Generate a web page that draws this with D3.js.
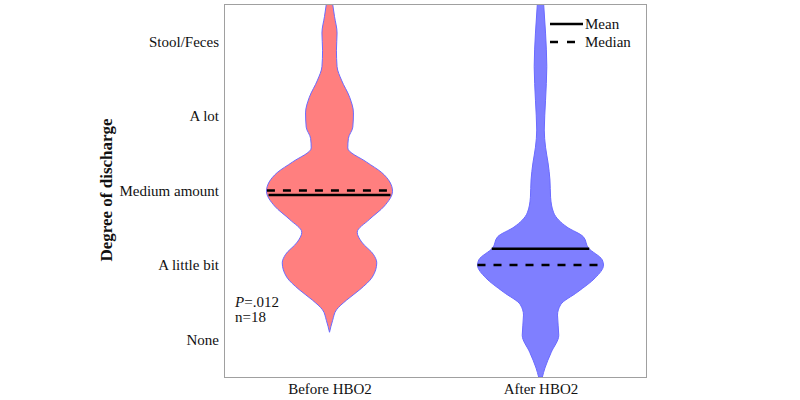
<!DOCTYPE html>
<html lang="en">
<head>
<meta charset="utf-8">
<title>Degree of discharge</title>
<script src="https://cdn.jsdelivr.net/npm/d3@7"></script>
<style>
  body { margin: 0; background: #fff; }
  svg text { font-family: "Liberation Serif", "Times New Roman", serif; fill: #111; }
</style>
</head>
<body>
<script>
// Categories and tick labels
var groups = ["Before HBO2", "After HBO2"];
var levelLabels = ["None", "A little bit", "Medium amount", "A lot", "Stool/Feces"];

// Violin outlines: level value and relative half-width
var beforeLevel   = [4.5, 4.33, 4.11, 3.88, 3.66, 3.48, 3.25, 3.04, 2.85, 2.70, 2.57, 2.38, 2.24, 1.99, 1.79, 1.61, 1.44, 1.31, 1.14, 1.03, 0.84, 0.67, 0.53, 0.40, 0.26, 0.10];
var beforeDensity = [0.05, 0.08, 0.12, 0.11, 0.12, 0.19, 0.32, 0.38, 0.37, 0.30, 0.29, 0.59, 0.83, 1.00, 0.87, 0.63, 0.44, 0.51, 0.70, 0.75, 0.68, 0.48, 0.27, 0.11, 0.05, 0];
var afterLevel    = [4.5, 4.11, 3.66, 3.21, 2.81, 2.58, 2.37, 2.14, 1.91, 1.70, 1.51, 1.38, 1.23, 1.07, 1.00, 0.83, 0.64, 0.47, 0.33, 0.06, -0.17, -0.38, -0.5];
var afterDensity  = [0.05, 0.08, 0.10, 0.08, 0.06, 0.08, 0.12, 0.15, 0.16, 0.21, 0.42, 0.68, 0.76, 0.98, 1.00, 0.87, 0.59, 0.32, 0.27, 0.29, 0.17, 0.07, 0.03];

// Summary values
var means = [1.94, 1.22];
var medians = [2, 1];
var fills = ["#ff7f7f", "#7f7fff"];

var width = 800, height = 400;
var margin = {top: 4, right: 154, bottom: 23, left: 224};

var svg = d3.select("body").append("svg")
    .attr("width", width)
    .attr("height", height);

var xScale = d3.scalePoint()
    .domain(groups)
    .range([margin.left, width - margin.right])
    .padding(0.5);

var yScale = d3.scaleLinear()
    .domain([-0.5, 4.5])
    .range([height - margin.bottom, margin.top]);

var wScale = d3.scaleLinear()
    .domain([0, 1])
    .range([0, 63]);

// clip so the violins stop at the frame
svg.append("clipPath").attr("id", "plot-clip")
  .append("rect")
    .attr("x", margin.left)
    .attr("y", margin.top)
    .attr("width", width - margin.left - margin.right)
    .attr("height", height - margin.top - margin.bottom);

var violins = [
  {group: groups[0], level: beforeLevel, density: beforeDensity, mean: means[0], median: medians[0], fill: fills[0]},
  {group: groups[1], level: afterLevel, density: afterDensity, mean: means[1], median: medians[1], fill: fills[1]}
];

// half width at a level, linear between the read points
function halfAt(v, d) {
  for (var i = 0; i < d.level.length - 1; i++) {
    var a = d.level[i], b = d.level[i + 1];
    if (v <= a && v >= b) {
      var t = (a - v) / (a - b);
      return wScale(d.density[i] + t * (d.density[i + 1] - d.density[i]));
    }
  }
  return 0;
}

var g = svg.append("g").attr("clip-path", "url(#plot-clip)");

violins.forEach(function(d) {
  var cx = xScale(d.group);
  var pts = d.level.map(function(v, i) { return {v: v, w: d.density[i]}; });

  var area = d3.area()
      .y(function(p) { return yScale(p.v); })
      .x0(function(p) { return cx - wScale(p.w); })
      .x1(function(p) { return cx + wScale(p.w); })
      .curve(d3.curveMonotoneY);

  g.append("path")
      .datum(pts)
      .attr("d", area)
      .attr("fill", d.fill)
      .attr("stroke", "#6a6aff")
      .attr("stroke-width", 1);

  var hm = halfAt(d.mean, d);
  g.append("line")
      .attr("x1", cx - hm).attr("x2", cx + hm)
      .attr("y1", yScale(d.mean)).attr("y2", yScale(d.mean))
      .attr("stroke", "#000")
      .attr("stroke-width", 2.5);

  var hd = halfAt(d.median, d);
  g.append("line")
      .attr("x1", cx - hd).attr("x2", cx + hd)
      .attr("y1", yScale(d.median)).attr("y2", yScale(d.median))
      .attr("stroke", "#000")
      .attr("stroke-width", 2.5)
      .attr("stroke-dasharray", "8,8");
});

// frame
svg.append("rect")
    .attr("x", margin.left + 0.5)
    .attr("y", margin.top + 0.5)
    .attr("width", width - margin.left - margin.right)
    .attr("height", height - margin.top - margin.bottom)
    .attr("fill", "none")
    .attr("stroke", "#a0a0a0")
    .attr("stroke-width", 1);

// Y axis
var yAxis = d3.axisLeft(yScale)
    .tickValues(d3.range(levelLabels.length))
    .tickFormat(function(i) { return levelLabels[i]; })
    .tickSize(0)
    .tickPadding(5);

svg.append("g")
    .attr("transform", "translate(" + margin.left + ",0)")
    .call(yAxis)
    .call(function(s) { s.select(".domain").remove(); })
    .selectAll("text")
      .style("font-family", "'Liberation Serif', 'Times New Roman', serif")
      .style("font-size", "15px")
      .attr("fill", "#111");

// X axis
var xAxis = d3.axisBottom(xScale)
    .tickSize(0)
    .tickPadding(6);

svg.append("g")
    .attr("transform", "translate(0," + (height - margin.bottom) + ")")
    .call(xAxis)
    .call(function(s) { s.select(".domain").remove(); })
    .selectAll("text")
      .style("font-family", "'Liberation Serif', 'Times New Roman', serif")
      .style("font-size", "15px")
      .attr("fill", "#111");

// Y title
svg.append("text")
    .attr("transform", "translate(106," + 190 + ")rotate(-90)")
    .attr("text-anchor", "middle")
    .attr("dominant-baseline", "central")
    .style("font-size", "17px")
    .style("font-weight", "bold")
    .text("Degree of discharge");

// stats note
var note = svg.append("text")
    .attr("x", margin.left + 11)
    .attr("y", 307)
    .style("font-size", "15px");
note.append("tspan").style("font-style", "italic").text("P");
note.append("tspan").text("=.012");
svg.append("text")
    .attr("x", margin.left + 11)
    .attr("y", 322)
    .style("font-size", "15px")
    .text("n=18");

// legend
var legend = svg.append("g").attr("transform", "translate(550,24)");
var legendItems = [{name: "Mean", dash: null}, {name: "Median", dash: "8,9"}];
legendItems.forEach(function(d, i) {
  legend.append("line")
      .attr("x1", 0).attr("x2", 33)
      .attr("y1", i * 18).attr("y2", i * 18)
      .attr("stroke", "#000")
      .attr("stroke-width", 2.5)
      .attr("stroke-dasharray", d.dash);
  legend.append("text")
      .attr("x", 35)
      .attr("y", i * 18)
      .attr("dy", "0.35em")
      .style("font-size", "15px")
      .text(d.name);
});
</script>
</body>
</html>
